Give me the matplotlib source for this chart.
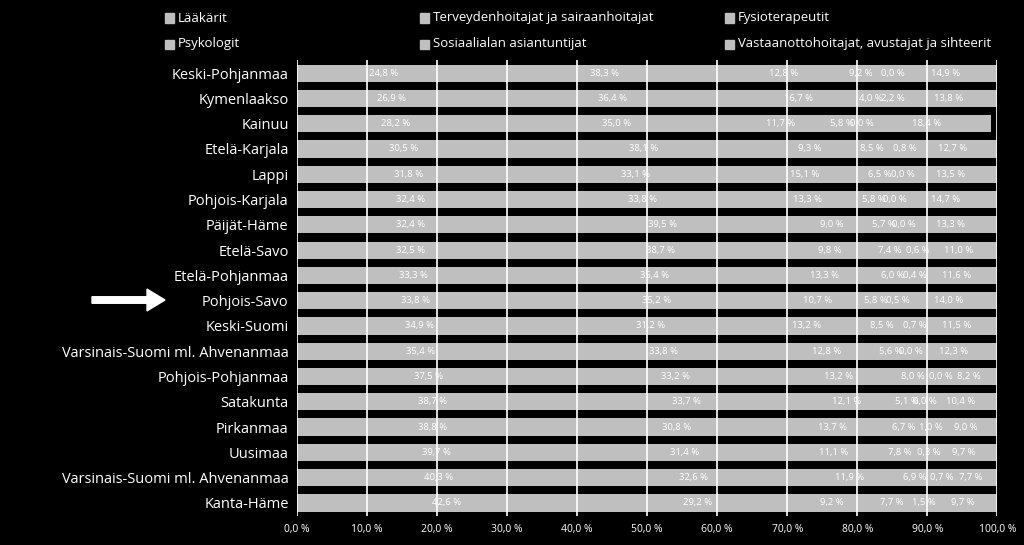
import matplotlib
matplotlib.use("Agg")
import matplotlib.pyplot as plt
import numpy as np
from matplotlib import font_manager

fams = {f.name for f in font_manager.fontManager.ttflist}
FONT = "Liberation Sans Narrow" if "Liberation Sans Narrow" in fams else "Open Sans"
plt.rcParams["font.family"] = FONT

regions = ["Keski-Pohjanmaa", "Kymenlaakso", "Kainuu", "Etelä-Karjala", "Lappi",
           "Pohjois-Karjala", "Päijät-Häme", "Etelä-Savo", "Etelä-Pohjanmaa",
           "Pohjois-Savo", "Keski-Suomi", "Varsinais-Suomi ml. Ahvenanmaa",
           "Pohjois-Pohjanmaa", "Satakunta", "Pirkanmaa", "Uusimaa",
           "Varsinais-Suomi ml. Ahvenanmaa", "Kanta-Häme"]
series_names = ["Lääkärit", "Terveydenhoitajat ja sairaanhoitajat", "Fysioterapeutit",
                "Psykologit", "Sosiaalialan asiantuntijat",
                "Vastaanottohoitajat, avustajat ja sihteerit"]
laakarit = [24.8, 26.9, 28.2, 30.5, 31.8, 32.4, 32.4, 32.5, 33.3, 33.8, 34.9, 35.4, 37.5, 38.7, 38.8, 39.7, 40.3, 42.6]
terveys = [38.3, 36.4, 35.0, 38.1, 33.1, 33.8, 39.5, 38.7, 35.4, 35.2, 31.2, 33.8, 33.2, 33.7, 30.8, 31.4, 32.6, 29.2]
fysio = [12.8, 16.7, 11.7, 9.3, 15.1, 13.3, 9.0, 9.8, 13.3, 10.7, 13.2, 12.8, 13.2, 12.1, 13.7, 11.1, 11.9, 9.2]
psyk = [9.2, 4.0, 5.8, 8.5, 6.5, 5.8, 5.7, 7.4, 6.0, 5.8, 8.5, 5.6, 8.0, 5.1, 6.7, 7.8, 6.9, 7.7]
sosiaali = [0.0, 2.2, 0.0, 0.8, 0.0, 0.0, 0.0, 0.6, 0.4, 0.5, 0.7, 0.0, 0.0, 0.0, 1.0, 0.3, 0.7, 1.5]
vastaanotto = [14.9, 13.8, 18.4, 12.7, 13.5, 14.7, 13.3, 11.0, 11.6, 14.0, 11.5, 12.3, 8.2, 10.4, 9.0, 9.7, 7.7, 9.7]
series = [laakarit, terveys, fysio, psyk, sosiaali, vastaanotto]

fig = plt.figure(figsize=(10.24, 5.45), dpi=100, facecolor="black")
ax = fig.add_axes([0.29, 0.054, 0.684, 0.835], facecolor="black")
y = np.arange(len(regions))
left = np.zeros(len(regions))
gray = "#BFBFBF"
handles = []
for name, vals in zip(series_names, series):
    vals = np.array(vals)
    h = ax.barh(y, vals, left=left, height=0.68, color=gray, zorder=1, label=name)
    handles.append(h)
    for yi, l, v in zip(y, left, vals):
        ax.text(l + v / 2, yi, f"{v:.1f} %".replace(".", ","), ha="center", va="center",
                color="white", fontsize=6.8, zorder=3)
    left += vals

ax.set_xlim(0, 100)
ax.set_ylim(len(regions) - 0.5, -0.5)
ax.set_xticks(np.arange(0, 101, 10))
ax.set_xticklabels([f"{t:.1f} %".replace(".", ",") for t in np.arange(0, 101, 10)],
                   color="white", fontsize=7.5)
ax.set_yticks(y)
ax.set_yticklabels(regions, color="white", fontsize=10.5)
ax.tick_params(length=0, pad=6)
ax.grid(axis="x", color="white", linewidth=1.2, zorder=2)
ax.set_axisbelow(False)
for s in ax.spines.values():
    s.set_visible(False)

# legend laid out row-wise like the reference
leg_x = [165, 420, 725]
leg_y = [18, 44]
for i, name in enumerate(series_names):
    r, c = divmod(i, 3)
    xf = leg_x[c] / 1024
    yf = 1 - leg_y[r] / 545
    fig.patches.append(matplotlib.patches.Rectangle(
        (xf, yf - 4.5 / 545), 9 / 1024, 9 / 545, transform=fig.transFigure, color=gray))
    fig.text(xf + 13 / 1024, yf, name, color="white", fontsize=9.5, va="center", ha="left")

fig.patches.append(matplotlib.patches.FancyArrow(
    92 / 1024, 1 - 300 / 545, 55 / 1024, 0, width=0.012, head_width=0.04, head_length=18 / 1024,
    transform=fig.transFigure, color="white", length_includes_head=False))

fig.savefig("out.png", dpi=100, facecolor="black")
